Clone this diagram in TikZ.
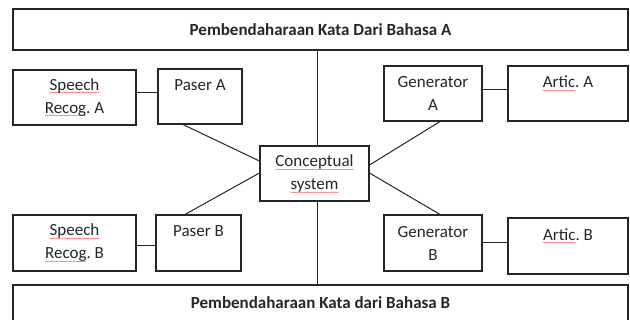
\documentclass[tikz,border=0pt]{standalone}
\usepackage{fontspec}
\setmainfont{Carlito}
\newfontfamily\dvfont{DejaVu Sans}
\usetikzlibrary{calc}
\frenchspacing
\newcommand\wvfont{\fontsize{5.5}{5.5}\selectfont\dvfont}
\newcommand\rwave[1]{\setbox0\hbox{#1}\rlap{\raisebox{-4.5pt}[0pt][0pt]{\color{red}\hbox to\wd0{\xleaders\hbox{\wvfont\kern-0.7pt∼\kern-0.7pt}\hfil}}}\box0}
\begin{document}
\begin{tikzpicture}[x=1pt,y=-1pt,
  box/.style={draw=black!85, line width=1.1pt, rectangle, inner sep=0pt, align=center,
    font=\fontsize{17}{23}\selectfont\frenchspacing, text=black!85},
  link/.style={draw=black!85, line width=1pt}]
\useasboundingbox (0,0) rectangle (630,320);
\clip (0,0) rectangle (630,320);
\fill[white] (0,0) rectangle (630,320);
% banners
\node[box, minimum width=615pt, minimum height=41pt] (TOP) at (320.5,29.5) {\bfseries Pembendaharaan Kata Dari Bahasa A};
\node[box, minimum width=615pt, minimum height=36pt] (BOT) at (320.5,303) {\bfseries Pembendaharaan Kata dari Bahasa B};
% row A
\node[box, minimum width=123pt, minimum height=55pt] (SRA) at (74.5,97.5) {\rwave{Speech}\\\rwave{Recog}. A};
\node[box, minimum width=84pt, minimum height=55pt] (PA) at (200,96.5) {Paser A\\\mbox{}};
\node[box, minimum width=98pt, minimum height=55pt] (GA) at (433,93.5) {Generator\\A};
\node[box, minimum width=120pt, minimum height=55pt] (ArA) at (568,93.5) {\rwave{Artic}. A\\\mbox{}};
% centre
\node[box, minimum width=109pt, minimum height=55pt] (CS) at (314.5,173.5) {\rwave{Conceptual}\\\rwave{system}};
% row B
\node[box, minimum width=123pt, minimum height=56pt] (SRB) at (74.5,243) {\rwave{Speech}\\\rwave{Recog}. B};
\node[box, minimum width=85pt, minimum height=56pt] (PB) at (198.5,243) {Paser B\\\mbox{}};
\node[box, minimum width=98pt, minimum height=56pt] (GB) at (433,243) {Generator\\B};
\node[box, minimum width=120pt, minimum height=56pt] (ArB) at (568,246) {\rwave{Artic}. B\\\mbox{}};
% connectors
\coordinate (c1) at ($(SRA.east)+(0,-4.5)$);
\draw[link] (c1) -- (c1 -| PA.west);
\coordinate (c2) at ($(GA.east)+(0,-3.5)$);
\draw[link] (c2) -- (c2 -| ArA.west);
\coordinate (c3) at ($(SRB.east)+(0,3)$);
\draw[link] (c3) -- (c3 -| PB.west);
\coordinate (c4) at (GB.east);
\draw[link] (c4) -- (c4 -| ArB.west);
\draw[link] ($(PA.south)+(-17,0)$) -- ($(CS.west)+(0,-12.5)$);
\draw[link] ($(PB.north)+(-13.5,0)$) -- ($(CS.west)+(0,-0.5)$);
\draw[link] ($(GA.south)+(7,0)$) -- ($(CS.east)+(0,-8.5)$);
\draw[link] ($(GB.north)+(7,0)$) -- ($(CS.east)+(0,-0.5)$);
\coordinate (v1) at ($(CS.north)+(2.5,0)$);
\draw[link] (v1) -- (v1 |- TOP.south);
\coordinate (v2) at ($(CS.south)+(2.5,0)$);
\draw[link] (v2) -- (v2 |- BOT.north);
\end{tikzpicture}
\end{document}
